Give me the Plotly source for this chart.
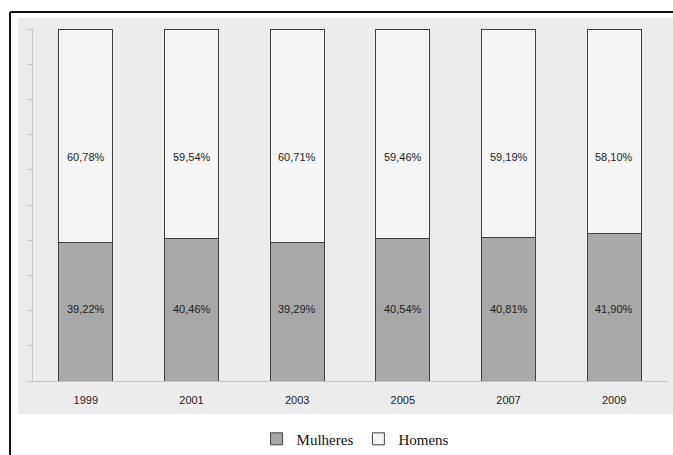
import plotly.graph_objects as go

# Share of women and men by year (%)
anos = ["1999", "2001", "2003", "2005", "2007", "2009"]
mulheres = [39.22, 40.46, 39.29, 40.54, 40.81, 41.90]
homens = [60.78, 59.54, 60.71, 59.46, 59.19, 58.10]

pos = list(range(len(anos)))

def rotulo(v):
    return f"{v:.2f}%".replace(".", ",")

label_font = dict(family="Liberation Sans Narrow, Arial Narrow, Liberation Sans, Arial",
                  size=11, color="#1e1e1e")

fig = go.Figure()
fig.add_trace(go.Bar(
    x=pos, y=mulheres, name="Mulheres", width=0.51,
    marker=dict(color="#a8a8a8", line=dict(color="#404040", width=1)),
))
fig.add_trace(go.Bar(
    x=pos, y=homens, name="Homens", width=0.51,
    marker=dict(color="#f5f5f5", line=dict(color="#404040", width=1)),
))

# Value labels at fixed heights inside each segment
for p, m, h in zip(pos, mulheres, homens):
    fig.add_annotation(x=p, y=20.5, text=rotulo(m), showarrow=False, font=label_font)
    fig.add_annotation(x=p, y=63.6, text=rotulo(h), showarrow=False, font=label_font)

# Shaded chart area and frame lines (paper coordinates)
W, H = 634, 352
fig.add_shape(type="rect", xref="paper", yref="paper",
              x0=-15 / W, x1=1.02, y0=-(414 - 381) / H, y1=(381 - 18) / H,
              fillcolor="#ececec", line=dict(width=0), layer="below")
fig.add_shape(type="line", xref="paper", yref="paper",
              x0=-23 / W, x1=-23 / W, y0=-(455 - 381) / H, y1=(381 - 12) / H,
              line=dict(color="#111", width=2))
fig.add_shape(type="line", xref="paper", yref="paper",
              x0=-23 / W, x1=1.02, y0=(381 - 12) / H, y1=(381 - 12) / H,
              line=dict(color="#111", width=2))

fig.update_layout(
    width=673, height=455,
    barmode="stack",
    paper_bgcolor="white", plot_bgcolor="rgba(0,0,0,0)",
    margin=dict(l=33, r=6, t=29, b=74, autoexpand=False),
    showlegend=True,
    legend=dict(orientation="h", x=0.508, xanchor="center", y=-0.165, yanchor="middle",
                traceorder="normal",
                font=dict(family="Liberation Serif, Times New Roman, serif", size=15, color="#111"),
                itemwidth=30, bgcolor="rgba(0,0,0,0)"),
    xaxis=dict(range=[-0.5, 5.5], tickvals=pos, ticktext=anos,
               showline=True, linecolor="#c4c4c4", linewidth=1,
               ticks="outside", ticklen=9, tickcolor="rgba(0,0,0,0)",
               showgrid=False, zeroline=False, tickfont=label_font),
    yaxis=dict(range=[0, 100], dtick=10, showticklabels=False, ticks="outside",
               ticklen=5, tickcolor="#c8c8c8", showline=True, linecolor="#c8c8c8",
               showgrid=False, zeroline=False),
)

fig.write_html("out.html")
